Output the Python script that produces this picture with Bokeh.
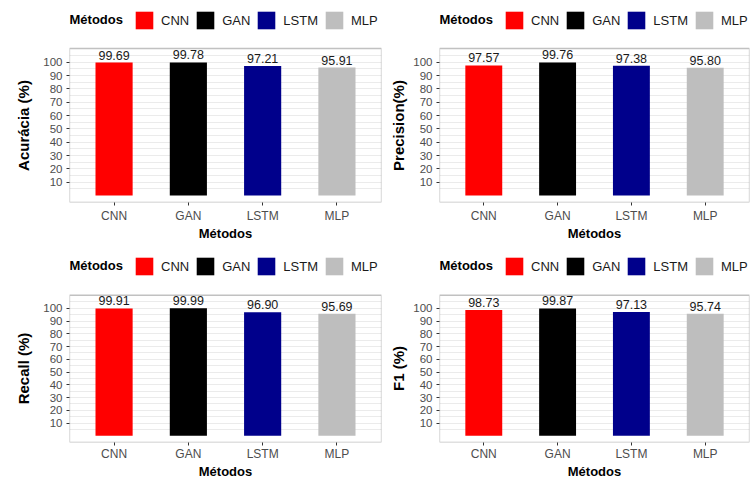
from bokeh.plotting import figure
from bokeh.layouts import gridplot
from bokeh.models import (ColumnDataSource, Range1d, FixedTicker, Legend, LegendItem,
                          BoxAnnotation, Label, Title)
from bokeh.core.properties import value
from bokeh.embed import file_html
from bokeh.resources import INLINE

# Métodos comparados e métricas (%)
methods = ["CNN", "GAN", "LSTM", "MLP"]
colors = ["#FF0000", "#000000", "#00008B", "#BEBEBE"]
acuracia = [99.69, 99.78, 97.21, 95.91]
precision = [97.57, 99.76, 97.38, 95.80]
recall = [99.91, 99.99, 96.90, 95.69]
f1 = [98.73, 99.87, 97.13, 95.74]
y_ticks = [10, 20, 30, 40, 50, 60, 70, 80, 90, 100]
y_minor = [5, 15, 25, 35, 45, 55, 65, 75, 85, 95, 105]

FONT = "Liberation Sans"
GRID = "#EBEBEB"
DARK = "#333333"
TICK_TEXT = "#4D4D4D"
Y0, Y1 = -5.25, 110.25          # visible value span of each panel
X0, X1 = 0.4, len(methods) + 0.6

# approximate advance widths (em) of the bold sans used for the y titles
BOLD_W = {"A": .722, "c": .556, "u": .611, "r": .389, "á": .556, "i": .278,
          "a": .556, " ": .278, "(": .333, "%": .889, ")": .333, "P": .667,
          "e": .556, "s": .556, "o": .611, "n": .611, "R": .722, "l": .278,
          "F": .611, "1": .556}


def text_width(s, size):
    return sum(BOLD_W.get(ch, .6) for ch in s) * size


def panel(values, ylabel, width, height, left, frame_w, bottom, panel_px,
          ytitle_standoff, xlab_standoff):
    frame_h = height - bottom
    # the frame also holds the legend strip above the bordered panel
    y_top = Y1 + (frame_h - panel_px) * (Y1 - Y0) / panel_px
    xs = list(range(1, len(methods) + 1))
    src = ColumnDataSource(dict(
        x=xs, top=values, color=colors, method=methods,
        label=[f"{v:.2f}" for v in values],
    ))
    p = figure(width=width, height=height,
               x_range=Range1d(X0, X1), y_range=Range1d(Y0, y_top),
               output_backend="svg", toolbar_location=None,
               min_border_left=left, min_border_right=width - left - frame_w,
               min_border_top=0, min_border_bottom=bottom)
    p.background_fill_color = "white"
    p.border_fill_color = "white"
    p.outline_line_color = None

    bars = p.vbar(x="x", top="top", bottom=0, width=0.5, source=src,
                  fill_color="color", line_color=None)
    p.text(x="x", y="top", text="label", source=src,
           text_align="center", text_baseline="bottom", y_offset=-3,
           text_font=value(FONT), text_font_size="12.5px", text_color="#1A1A1A")

    # panel border
    p.add_layout(BoxAnnotation(left=X0, right=X1, bottom=Y0, top=Y1,
                               fill_alpha=0, line_color=DARK, line_width=1.3))

    # axes
    p.xaxis.ticker = FixedTicker(ticks=xs)
    p.xaxis.major_label_overrides = {x: m for x, m in zip(xs, methods)}
    p.yaxis.ticker = FixedTicker(ticks=y_ticks, minor_ticks=y_minor)
    for ax in (p.xaxis[0], p.yaxis[0]):
        ax.axis_line_color = None
        ax.major_tick_line_color = DARK
        ax.major_tick_in = 0
        ax.major_tick_out = 3
        ax.minor_tick_line_color = None
        ax.major_label_text_font = FONT
        ax.major_label_text_color = TICK_TEXT
        ax.major_label_text_line_height = 1.0
        ax.axis_label_text_font = FONT
        ax.axis_label_text_font_style = "bold"
        ax.axis_label_text_color = "black"
        ax.axis_label_text_line_height = 1.0
    p.xaxis.major_label_text_font_size = "12px"
    p.xaxis.major_label_standoff = xlab_standoff
    p.xaxis.axis_label = "Métodos"
    p.xaxis.axis_label_text_font_size = "13px"
    p.xaxis.axis_label_standoff = 0
    p.yaxis.major_label_text_font_size = "11.5px"
    p.yaxis.major_label_standoff = 3

    # y title centred on the bordered panel
    p.add_layout(Title(text=ylabel, align="left",
                       offset=panel_px / 2 - text_width(ylabel, 15) / 2,
                       standoff=ytitle_standoff,
                       text_font=FONT, text_font_size="15px",
                       text_font_style="bold", text_color="black"), "left")

    # grid
    p.xgrid.grid_line_color = None
    p.ygrid.grid_line_color = GRID
    p.ygrid.grid_line_width = 1
    p.ygrid.minor_grid_line_color = GRID
    p.ygrid.minor_grid_line_width = 1

    # legend strip
    p.add_layout(Label(x=0, y=frame_h - 19, x_units="screen", y_units="screen",
                       text="Métodos", text_baseline="middle", text_align="left",
                       text_font=FONT, text_font_size="13px",
                       text_font_style="bold", text_color="black"))
    items = [LegendItem(label=m, renderers=[bars], index=i) for i, m in enumerate(methods)]
    leg = Legend(items=items, orientation="horizontal",
                 location=(64, frame_h - 31),
                 label_text_font=FONT, label_text_font_size="13px",
                 label_text_color="#1A1A1A",
                 glyph_width=22, glyph_height=22, label_standoff=6, spacing=5,
                 padding=4, margin=0, border_line_color=None,
                 background_fill_alpha=0)
    p.add_layout(leg)
    return p


p1 = panel(acuracia, "Acurácia (%)", 383, 247, 69, 312, 45, 154, 18, 3)
p2 = panel(precision, "Precision(%)", 367, 247, 55, 311, 45, 154, 8, 3)
p3 = panel(recall, "Recall (%)", 383, 234, 69, 312, 38, 148, 18, 1)
p4 = panel(f1, "F1 (%)", 367, 234, 55, 311, 38, 148, 8, 1)

p = gridplot([[p1, p2], [p3, p4]], toolbar_location=None)

open("out.html", "w").write(file_html(p, INLINE))
